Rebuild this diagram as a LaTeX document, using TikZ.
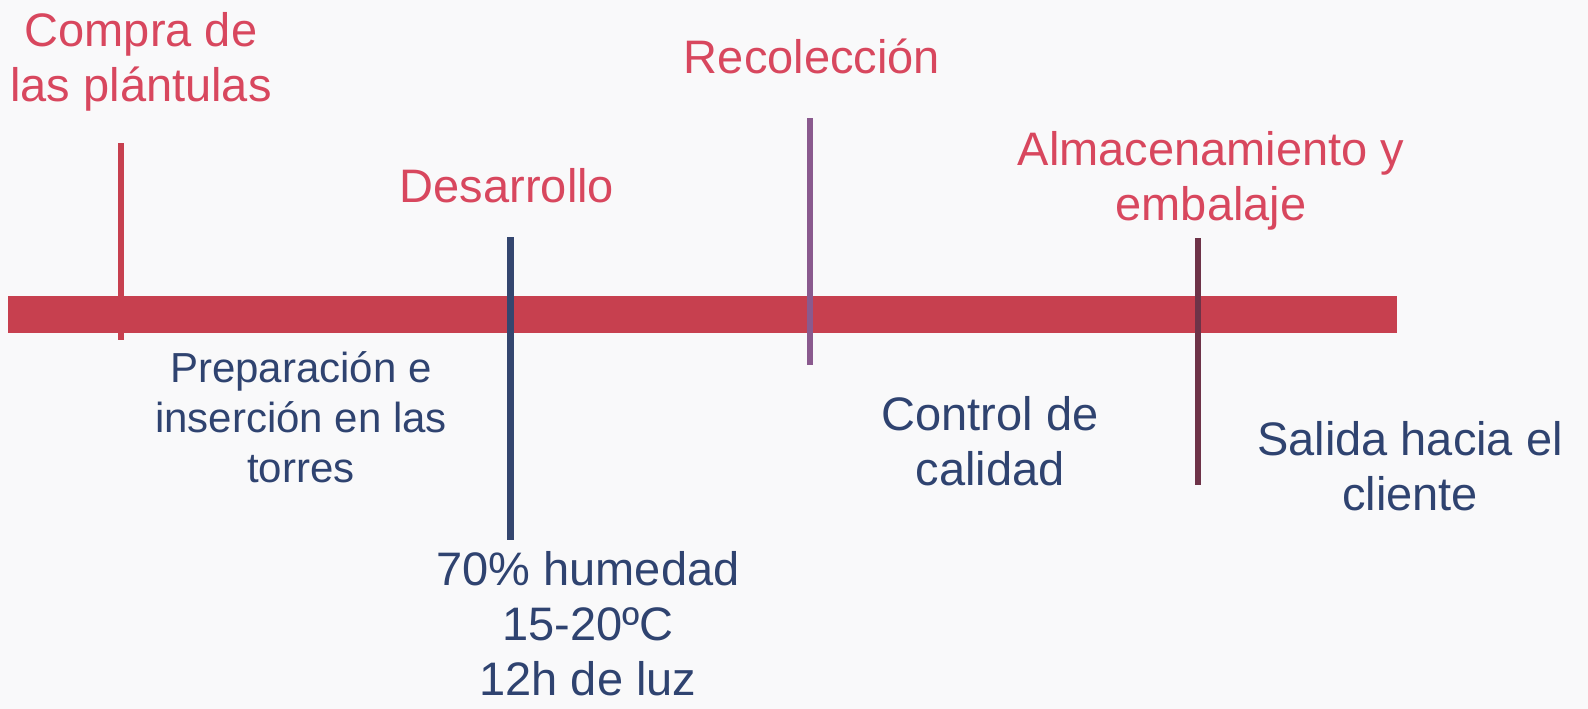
\documentclass[tikz,border=0pt]{standalone}
\usepackage{fontspec}
\setmainfont{Liberation Sans}
\definecolor{bgc}{HTML}{F9F9FA}
\definecolor{barred}{HTML}{C7404F}
\definecolor{titred}{HTML}{D8475E}
\definecolor{navy}{HTML}{2F4370}
\definecolor{tnavy}{HTML}{34466F}
\definecolor{tpurple}{HTML}{8A5A8E}
\definecolor{tmaroon}{HTML}{6E3348}
\tikzset{
  toplbl/.style={inner sep=0pt, anchor=base, align=center, text=titred, font=\fontsize{47}{55}\selectfont},
  botlbl/.style={inner sep=0pt, anchor=base, align=center, text=navy, font=\fontsize{47}{55}\selectfont},
  smalllbl/.style={inner sep=0pt, anchor=base, align=center, text=navy, font=\fontsize{42}{50}\selectfont},
  tick/.style={line width=6pt},
}
\begin{document}
\begin{tikzpicture}[x=1pt,y=-1pt]
\fill[bgc] (0,0) rectangle (1588,709);
\useasboundingbox (0,0) rectangle (1588,709);
% main bar
\fill[barred] (8,296) rectangle (1397,333);
% tick coordinates
\coordinate (t1a) at (121,143); \coordinate (t1b) at (121,340);
\coordinate (t2a) at (510,237); \coordinate (t2b) at (510,540);
\coordinate (t3a) at (810,118); \coordinate (t3b) at (810,365);
\coordinate (t4a) at (1198,238); \coordinate (t4b) at (1198,485);
\draw[tick, barred] (t1a) -- (t1b);
\draw[tick, tnavy, line width=7pt] (t2a) -- (t2b);
\draw[tick, tpurple] (t3a) -- (t3b);
\draw[tick, tmaroon] (t4a) -- (t4b);
% top labels (anchor = baseline of last line)
\node[toplbl] (compra) at (141,102) {Compra de\\las plántulas};
\node[toplbl] (desarrollo) at (507,202) {Desarrollo};
\node[toplbl] (recoleccion) at (812,74) {Recolección};
\node[toplbl] (almacen) at (1211,220) {Almacenamiento y\\embalaje};
% bottom labels
\node[smalllbl] (prep) at (301,482) {Preparación e\\inserción en las\\torres};
\node[botlbl] (cond) at (588,695) {70\% humedad\\15-20ºC\\12h de luz};
\node[botlbl] (control) at (990,485) {Control de\\calidad};
\node[botlbl] (salida) at (1410,510) {Salida hacia el\\cliente};
\end{tikzpicture}
\end{document}
